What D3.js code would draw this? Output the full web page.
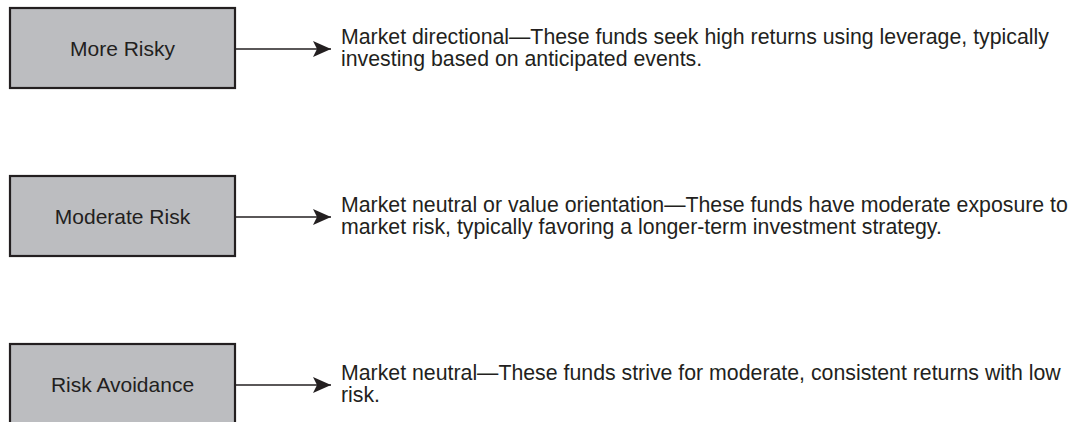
<!DOCTYPE html>
<html>
<head>
<meta charset="utf-8">
<script src="https://cdn.jsdelivr.net/npm/d3@7"></script>
<style>
  body { margin: 0; background: #fff; }
  svg { display: block; font-family: "Liberation Sans", Arial, sans-serif; }
</style>
</head>
<body>
<div id="chart"></div>
<script>
var levels = ["More Risky", "Moderate Risk", "Risk Avoidance"];
var descLine1 = [
  "Market directional\u2014These funds seek high returns using leverage, typically",
  "Market neutral or value orientation\u2014These funds have moderate exposure to",
  "Market neutral\u2014These funds strive for moderate, consistent returns with low"
];
var descLine2 = [
  "investing based on anticipated events.",
  "market risk, typically favoring a longer-term investment strategy.",
  "risk."
];

var width = 1072, height = 422;
var ink = "#231f20";

var svg = d3.select("#chart").append("svg")
  .attr("width", width)
  .attr("height", height);

svg.append("defs").append("marker")
  .attr("id", "head")
  .attr("viewBox", "0 0 18 16")
  .attr("refX", 18)
  .attr("refY", 8)
  .attr("markerUnits", "userSpaceOnUse")
  .attr("markerWidth", 18)
  .attr("markerHeight", 16)
  .attr("orient", "auto")
  .append("path")
    .attr("d", "M0,0 L18,8 L0,16 L4,8 Z")
    .attr("fill", ink);

// rows are spaced evenly down the page
var y = d3.scalePoint()
  .domain(levels)
  .range([48, 384]);

var boxW = 225, boxH = 80, boxX = 10;

var row = svg.selectAll("g.row")
  .data(levels)
  .enter()
  .append("g")
    .attr("class", "row")
    .attr("transform", function(d) { return "translate(0," + y(d) + ")"; });

row.append("rect")
  .attr("x", boxX)
  .attr("y", -boxH / 2)
  .attr("width", boxW)
  .attr("height", boxH)
  .attr("fill", "#bcbdc0")
  .attr("stroke", ink)
  .attr("stroke-width", 2.2);

row.append("text")
  .attr("x", boxX + boxW / 2)
  .attr("y", 7.5)
  .attr("text-anchor", "middle")
  .attr("font-size", 21)
  .attr("fill", ink)
  .text(function(d) { return d; });

row.append("line")
  .attr("x1", boxX + boxW + 1)
  .attr("x2", 331)
  .attr("y1", 1)
  .attr("y2", 1)
  .attr("stroke", ink)
  .attr("stroke-width", 1.4)
  .attr("marker-end", "url(#head)");

row.append("text")
  .attr("x", 341)
  .attr("y", -4.5)
  .attr("font-size", 21.3)
  .attr("fill", ink)
  .text(function(d, i) { return descLine1[i]; });

row.append("text")
  .attr("x", 341)
  .attr("y", 18)
  .attr("font-size", 21.3)
  .attr("fill", ink)
  .text(function(d, i) { return descLine2[i]; });
</script>
</body>
</html>
